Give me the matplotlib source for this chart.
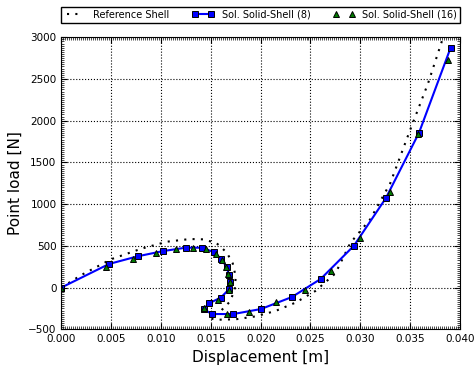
import matplotlib
matplotlib.use("Agg")
import matplotlib.pyplot as plt
from matplotlib.ticker import MultipleLocator

# Reference shell (dotted)
ref_x = [0.0, 0.002, 0.005, 0.008, 0.0106, 0.0129, 0.0143, 0.0156, 0.0166, 0.0172, 0.0175,
         0.0174, 0.0169, 0.0160, 0.0152, 0.0150, 0.0158, 0.0175, 0.0195, 0.0215, 0.0235,
         0.0255, 0.0275, 0.0290, 0.0310, 0.0330, 0.0350, 0.0368, 0.0382]
ref_y = [0, 150, 340, 465, 550, 582, 578, 530, 420, 290, 130,
         -30, -170, -280, -340, -372, -385, -380, -345, -280, -180,
         -40, 170, 535, 820, 1250, 1890, 2450, 2960]

# Sol. Solid-Shell (8)
s8_x = [0.0, 0.00479, 0.00766, 0.01023, 0.01248, 0.01415, 0.01532, 0.01602, 0.01659, 0.01682,
        0.01695, 0.01682, 0.01599, 0.01482, 0.01429, 0.01509, 0.01726, 0.02003, 0.02314,
        0.02602, 0.02936, 0.03257, 0.03589, 0.03906]
s8_y = [0, 283, 375, 438, 478, 478, 423, 343, 250, 151,
        63, -21, -121, -188, -257, -317, -317, -257, -113,
        103, 502, 1074, 1856, 2875]

# Sol. Solid-Shell (16)
s16_x = [0.0, 0.00445, 0.00716, 0.0095, 0.01151, 0.01325, 0.01452, 0.01549, 0.01615, 0.01649,
         0.01676, 0.01692, 0.01679, 0.01575, 0.01429, 0.01659, 0.01886, 0.02155, 0.02445,
         0.02703, 0.02997, 0.03296, 0.03578, 0.03883]
s16_y = [0, 250, 343, 411, 459, 474, 463, 399, 331, 250,
         159, 71, -29, -149, -248, -317, -289, -170, -25,
         202, 598, 1146, 1841, 2728]

fig = plt.figure(figsize=(4.74, 3.65), dpi=100)
ax = fig.add_axes([61.3/474, 1-329.3/365, (460-61.3)/474, (329.3-37.3)/365])

ax.plot(ref_x, ref_y, color='black', linestyle=(0, (1, 3)), linewidth=1.5, label='Reference Shell')
ax.plot(s8_x, s8_y, color='#0000ff', linewidth=1.5, marker='s', markersize=5,
        markeredgecolor='black', markeredgewidth=0.7, label='Sol. Solid-Shell (8)')
ax.plot(s16_x, s16_y, color='#007a00', linestyle='none', marker='^', markersize=5,
        markeredgecolor='black', markeredgewidth=0.7, label='Sol. Solid-Shell (16)')

ax.set_xlim(0, 0.04)
ax.set_ylim(-500, 3000)
ax.xaxis.set_major_locator(MultipleLocator(0.005))
ax.yaxis.set_major_locator(MultipleLocator(500))
ax.xaxis.set_minor_locator(MultipleLocator(0.0002))
ax.yaxis.set_minor_locator(MultipleLocator(25))
ax.set_xticks(ax.get_xticks())
ax.set_xticklabels([f"{v:.3f}" for v in ax.get_xticks()])
ax.set_xlim(0, 0.04)
ax.tick_params(which='both', direction='in', top=True, right=True, labelsize=7.5)
ax.tick_params(which='major', length=4)
ax.tick_params(which='minor', length=2, width=0.5)
ax.grid(True, which='major', color='black', linestyle=':', linewidth=0.8)
ax.set_xlabel('Displacement [m]', fontsize=11)
ax.set_ylabel('Point load [N]', fontsize=11)

leg = ax.legend(loc='lower left', bbox_to_anchor=(0.0, 1.05, 1.0, 0.06), ncol=3,
                mode='expand', fontsize=7, numpoints=2, handlelength=2.2,
                fancybox=False, framealpha=1, borderaxespad=0.0, borderpad=0.3)
leg.get_frame().set_edgecolor('black')

fig.savefig('out.png', dpi=100)
